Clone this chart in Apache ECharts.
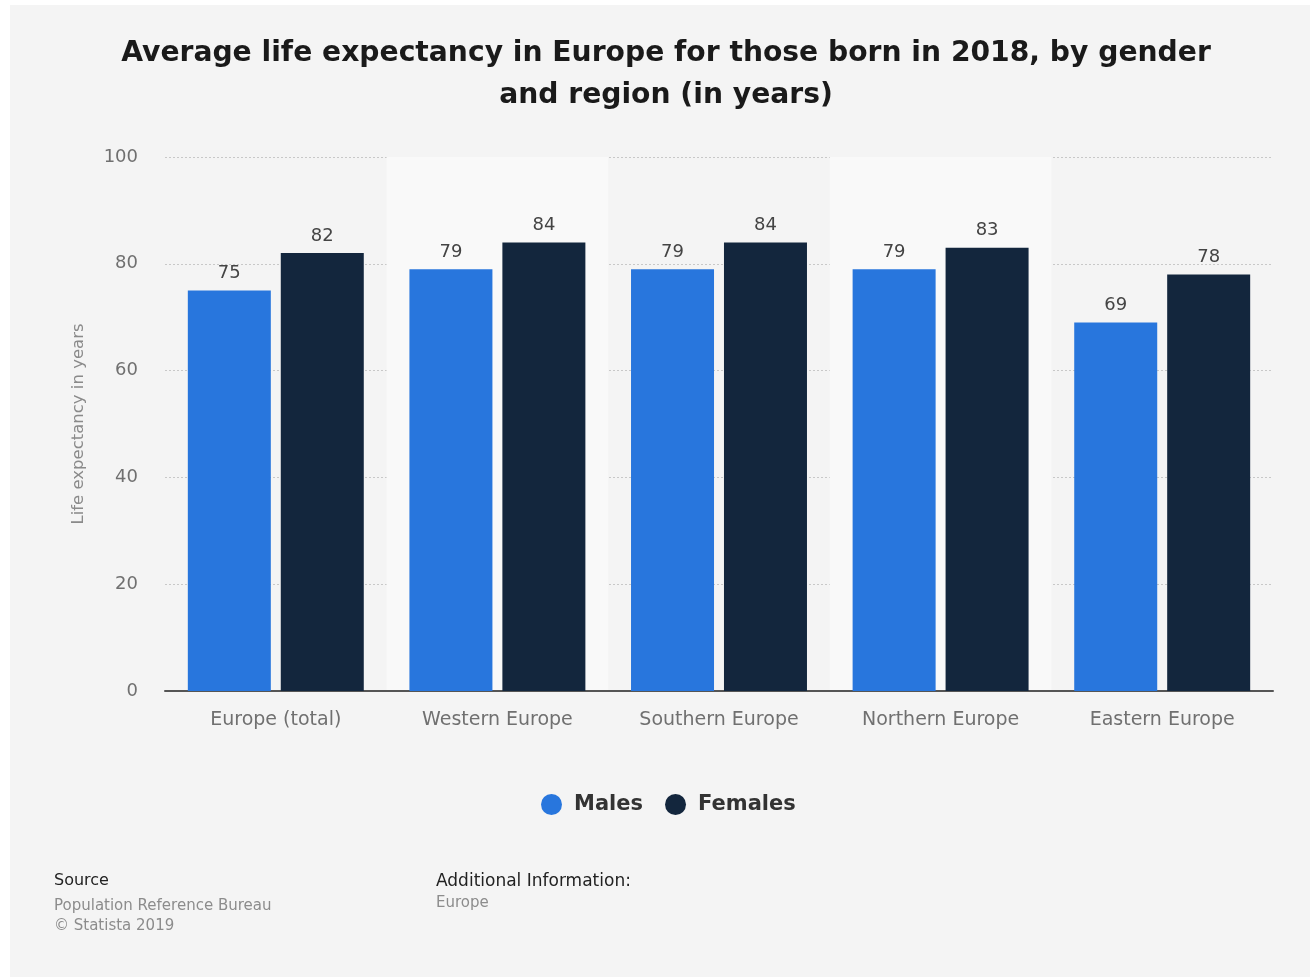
<!DOCTYPE html>
<html>
<head>
<meta charset="utf-8">
<script src="https://cdn.jsdelivr.net/npm/echarts@6/dist/echarts.min.js"></script>
<style>
html,body{margin:0;padding:0;background:#ffffff;}
#chart{position:absolute;left:10px;top:5px;width:1300px;height:972px;}
</style>
</head>
<body>
<div id="chart"></div>
<script>
const categories = ['Europe (total)', 'Western Europe', 'Southern Europe', 'Northern Europe', 'Eastern Europe'];
const males = [75, 79, 79, 79, 69];
const females = [82, 84, 84, 83, 78];
const yTicks = [0, 20, 40, 60, 80, 100];
const seriesNames = ['Males', 'Females'];
const titleLines = ['Average life expectancy in Europe for those born in 2018, by gender', 'and region (in years)'];

const chart = echarts.init(document.getElementById('chart'), null, {renderer: 'canvas'});
const FONT = 'DejaVu Sans';
const option = {
  backgroundColor: '#f4f4f4',
  animation: false,
  legend: {
    data: seriesNames,
    bottom: 157,
    left: 526,
    icon: 'circle',
    itemWidth: 21,
    itemHeight: 21,
    itemGap: 22,
    textStyle: {fontFamily: FONT, fontSize: 21, fontWeight: 'bold', color: '#333', padding: [0, 0, 0, 7]}
  },
  grid: {left: 155, right: 37, top: 152, bottom: 286, containLabel: false},
  xAxis: {
    type: 'category',
    data: categories,
    axisLine: {lineStyle: {color: '#555', width: 2}},
    axisTick: {show: false},
    axisLabel: {fontFamily: FONT, fontSize: 19, color: '#707070', margin: 20},
    splitArea: {show: true, areaStyle: {color: ['rgba(0,0,0,0)', '#f9f9f9']}}
  },
  yAxis: {
    type: 'value',
    min: yTicks[0],
    max: yTicks[yTicks.length - 1],
    interval: yTicks[1] - yTicks[0],
    name: 'Life expectancy in years',
    nameLocation: 'middle',
    nameGap: 78,
    nameTextStyle: {fontFamily: FONT, fontSize: 16.5, color: '#8a8a8a'},
    axisLine: {show: false},
    axisTick: {show: false},
    axisLabel: {fontFamily: FONT, fontSize: 18, color: '#707070', margin: 27},
    splitLine: {lineStyle: {color: '#c8c8c8', type: [2, 2], width: 1}}
  },
  series: [
    {
      name: seriesNames[0], type: 'bar', data: males,
      barWidth: 83, barGap: '12%',
      itemStyle: {color: '#2876dd'},
      label: {show: true, position: 'top', distance: 8, fontFamily: FONT, fontSize: 18, color: '#444'}
    },
    {
      name: seriesNames[1], type: 'bar', data: females,
      barWidth: 83, barGap: '12%',
      itemStyle: {color: '#13263d'},
      label: {show: true, position: 'top', distance: 8, fontFamily: FONT, fontSize: 18, color: '#444'}
    }
  ],
  graphic: [
    {type: 'text', x: 656, y: 49, style: {text: titleLines[0], font: 'bold 28.2px "DejaVu Sans"', fill: '#1a1a1a', align: 'center', verticalAlign: 'middle'}},
    {type: 'text', x: 656, y: 91, style: {text: titleLines[1], font: 'bold 28.2px "DejaVu Sans"', fill: '#1a1a1a', align: 'center', verticalAlign: 'middle'}},
    {type: 'text', left: 44, top: 868, style: {text: 'Source', font: '16px "DejaVu Sans"', fill: '#222'}},
    {type: 'text', left: 44, top: 891, style: {text: 'Population Reference Bureau\n© Statista 2019', font: '15px "DejaVu Sans"', fill: '#8c8c8c', lineHeight: 20}},
    {type: 'text', left: 426, top: 868, style: {text: 'Additional Information:', font: '17px "DejaVu Sans"', fill: '#222'}},
    {type: 'text', left: 426, top: 891, style: {text: 'Europe', font: '15px "DejaVu Sans"', fill: '#8c8c8c'}}
  ]
};
chart.setOption(option);
</script>
</body>
</html>
